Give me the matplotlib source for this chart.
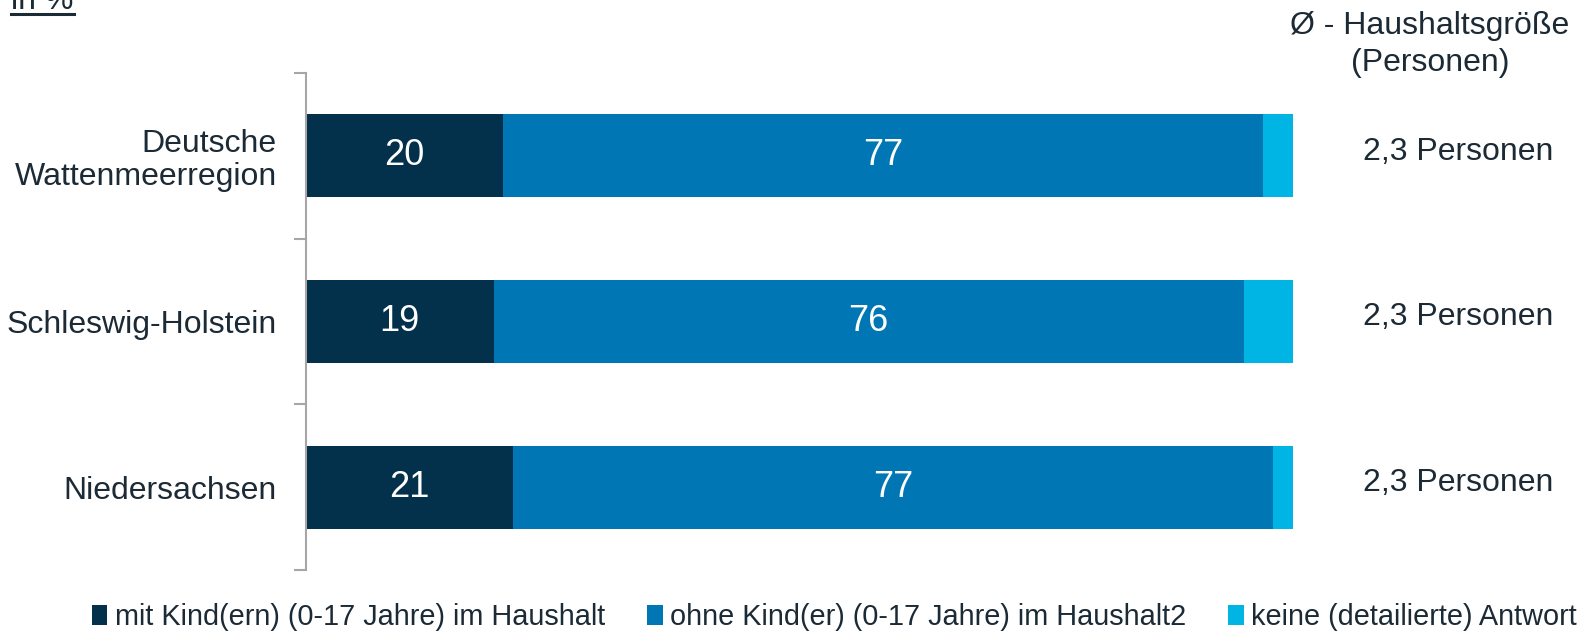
import matplotlib.pyplot as plt
from matplotlib.patches import Patch
from matplotlib.lines import Line2D

plt.rcParams['font.family'] = ['Liberation Sans', 'DejaVu Sans']

regions = ['Deutsche\nWattenmeerregion', 'Schleswig-Holstein', 'Niedersachsen']
mit_kind = [20, 19, 21]
ohne_kind = [77, 76, 77]
keine_antwort = [3, 5, 2]
hh_groesse = ['2,3 Personen', '2,3 Personen', '2,3 Personen']
series_names = ['mit Kind(ern) (0-17 Jahre) im Haushalt',
                'ohne Kind(er) (0-17 Jahre) im Haushalt2',
                'keine (detailierte) Antwort']

colors = ['#03304a', '#0077b4', '#00b5e4']
txt = '#1b2a35'

fig = plt.figure(figsize=(15.83, 6.35), dpi=100)
ax = fig.add_axes([306 / 1583, 1 - 570 / 635, 987 / 1583, 497 / 635])

y = list(range(len(regions)))
left = [0] * len(regions)
for vals, col in zip([mit_kind, ohne_kind, keine_antwort], colors):
    ax.barh(y, vals, left=left, height=0.5, color=col)
    left = [l + v for l, v in zip(left, vals)]

# value labels on the first two segments, household size on the right
for i in y:
    ax.text(mit_kind[i] / 2, i, str(mit_kind[i]), ha='center', va='center',
            color='white', fontsize=26)
    ax.text(mit_kind[i] + ohne_kind[i] / 2, i, str(ohne_kind[i]), ha='center',
            va='center', color='white', fontsize=26)
    ax.text(116.7, i - 0.025, hh_groesse[i], ha='center', va='center', color=txt,
            fontsize=23, clip_on=False)

ax.set_xlim(0, 100)
ax.set_ylim(len(regions) - 0.5, -0.5)
ax.set_yticks(y)
ax.set_yticklabels(regions, fontsize=23, color=txt, linespacing=1.1)
ax.set_yticks([-0.5, 0.5, 1.5, 2.5], minor=True)
ax.tick_params(axis='y', which='major', length=0, pad=21)
ax.tick_params(axis='y', which='minor', length=9, color='#a6a6a6', width=1.5)
ax.set_xticks([])
for s in ['top', 'right', 'bottom']:
    ax.spines[s].set_visible(False)
ax.spines['left'].set_color('#a6a6a6')
ax.spines['left'].set_linewidth(1.5)

# header for the right column
fig.text(1430 / 1583, 1 - 26 / 635, 'Ø - Haushaltsgröße', ha='center', va='center',
         fontsize=23, color=txt)
fig.text(1430 / 1583, 1 - 63 / 635, '(Personen)', ha='center', va='center',
         fontsize=23, color=txt)

# unit label, underlined
fig.text(11 / 1583, 1 - 9 / 635, 'in %', ha='left', va='baseline', fontsize=23, color=txt)
fig.add_artist(Line2D([11 / 1583, 74 / 1583], [1 - 14 / 635, 1 - 14 / 635],
                      color=txt, lw=2.2, transform=fig.transFigure))

handles = [Patch(facecolor=c) for c in colors]
fig.legend(handles, series_names, loc='lower center', bbox_to_anchor=(0.527, -0.035),
           ncol=3, frameon=False, fontsize=20.8, handlelength=0.55, handleheight=0.7,
           handletextpad=0.25, columnspacing=1.45, labelcolor=txt)

fig.savefig('out.png', dpi=100)
